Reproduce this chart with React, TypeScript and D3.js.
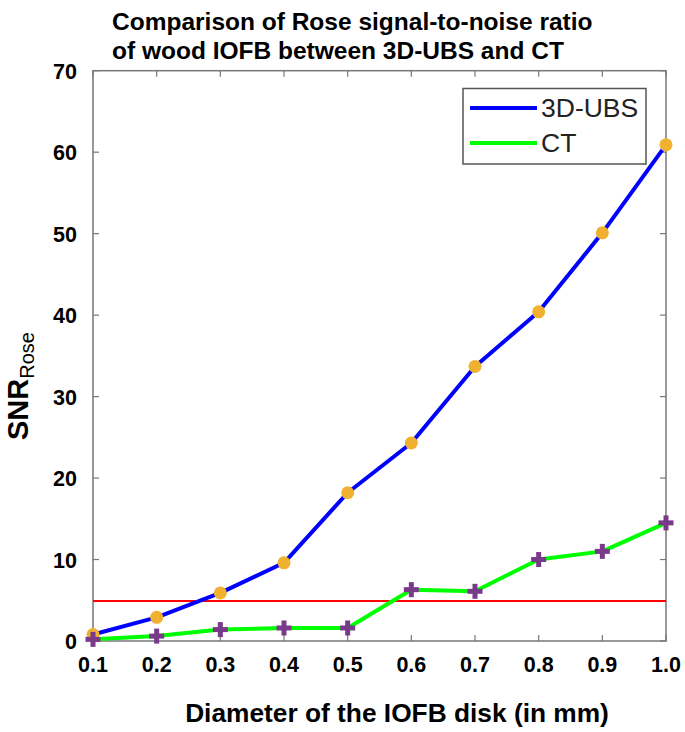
import React from "react";
import * as d3 from "d3";

const diameters = [0.1, 0.2, 0.3, 0.4, 0.5, 0.6, 0.7, 0.8, 0.9, 1.0];
const ubsValues = [0.8, 2.9, 5.9, 9.6, 18.2, 24.3, 33.7, 40.4, 50.1, 60.9];
const ctValues = [0.2, 0.6, 1.4, 1.6, 1.6, 6.3, 6.1, 10.0, 11.0, 14.5];
const thresholdValue = 4.9;
const xTicks = [0.1, 0.2, 0.3, 0.4, 0.5, 0.6, 0.7, 0.8, 0.9, 1.0];
const yTicks = [0, 10, 20, 30, 40, 50, 60, 70];
const seriesNames = ["3D-UBS", "CT"];

const W = 685;
const H = 732;
const left = 93;
const right = 666;
const top = 70.7;
const bottom = 641;
const FONT = "'Liberation Sans', Arial, Helvetica, sans-serif";

export default function App() {
  const x = d3.scaleLinear().domain([0.1, 1.0]).range([left, right]);
  const y = d3.scaleLinear().domain([0, 70]).range([bottom, top]);
  const line = d3
    .line<number>()
    .x((_, i) => x(diameters[i]))
    .y((v) => y(v));
  const tickLen = 6;
  const axisColor = "#777";

  return (
    <svg
      width={W}
      height={H}
      style={{ position: "absolute", left: 0, top: 0, background: "#fff" }}
      fontFamily={FONT}
    >
      <rect x={0} y={0} width={W} height={H} fill="#fff" />
      {/* title */}
      <text x={112} y={30} fontSize={24.5} fontWeight="bold" fill="#000">
        Comparison of Rose signal-to-noise ratio
      </text>
      <text x={112} y={59} fontSize={24.5} fontWeight="bold" fill="#000">
        of wood IOFB between 3D-UBS and CT
      </text>

      {/* ticks */}
      {xTicks.map((t) => (
        <g key={"xt" + t}>
          <line x1={x(t)} x2={x(t)} y1={bottom} y2={bottom - tickLen} stroke={axisColor} strokeWidth={1.2} />
          <line x1={x(t)} x2={x(t)} y1={top} y2={top + tickLen} stroke={axisColor} strokeWidth={1.2} />
          <text
            x={x(t)}
            y={672}
            textAnchor="middle"
            fontSize={21.5}
            fontWeight="bold"
            fill="#000"
          >
            {t.toFixed(1)}
          </text>
        </g>
      ))}
      {yTicks.map((t) => (
        <g key={"yt" + t}>
          <line x1={left} x2={left + tickLen} y1={y(t)} y2={y(t)} stroke={axisColor} strokeWidth={1.2} />
          <line x1={right} x2={right - tickLen} y1={y(t)} y2={y(t)} stroke={axisColor} strokeWidth={1.2} />
          <text
            x={77}
            y={y(t) + 8}
            textAnchor="end"
            fontSize={21.5}
            fontWeight="bold"
            fill="#000"
          >
            {t}
          </text>
        </g>
      ))}

      {/* frame */}
      <rect
        x={left}
        y={top}
        width={right - left}
        height={bottom - top}
        fill="none"
        stroke={axisColor}
        strokeWidth={1.5}
      />

      {/* threshold */}
      <line
        x1={left}
        x2={right}
        y1={y(thresholdValue)}
        y2={y(thresholdValue)}
        stroke="#ff0000"
        strokeWidth={2}
      />

      {/* lines */}
      <path d={line(ubsValues) || ""} fill="none" stroke="#0000ff" strokeWidth={4} strokeLinejoin="round" />
      <path d={line(ctValues) || ""} fill="none" stroke="#00ff00" strokeWidth={4} strokeLinejoin="round" />

      {/* markers */}
      {ubsValues.map((v, i) => (
        <circle key={"u" + i} cx={x(diameters[i])} cy={y(v)} r={6.5} fill="#f0b030" />
      ))}
      {ctValues.map((v, i) => {
        const cx = x(diameters[i]);
        const cy = y(v);
        const s = 7.5;
        return (
          <g key={"c" + i} stroke="#7a3a8a" strokeWidth={5}>
            <line x1={cx - s} x2={cx + s} y1={cy} y2={cy} />
            <line x1={cx} x2={cx} y1={cy - s} y2={cy + s} />
          </g>
        );
      })}

      {/* legend */}
      <rect x={463} y={88.5} width={183} height={75.5} fill="#fff" stroke="#555" strokeWidth={1.5} />
      <line x1={470} x2={537} y1={108} y2={108} stroke="#0000ff" strokeWidth={4} />
      <line x1={470} x2={537} y1={143} y2={143} stroke="#00ff00" strokeWidth={4} />
      <text x={541} y={117} fontSize={26.5} fill="#222">
        {seriesNames[0]}
      </text>
      <text x={541} y={152} fontSize={26.5} fill="#222">
        {seriesNames[1]}
      </text>

      {/* axis titles */}
      <text x={397} y={722} textAnchor="middle" fontSize={26.3} fontWeight="bold" fill="#000">
        Diameter of the IOFB disk (in mm)
      </text>
      <text transform="translate(28,440) rotate(-90)" fill="#000">
        <tspan fontSize={29} fontWeight="bold">SNR</tspan>
        <tspan fontSize={20} dy={6}>Rose</tspan>
      </text>
    </svg>
  );
}
